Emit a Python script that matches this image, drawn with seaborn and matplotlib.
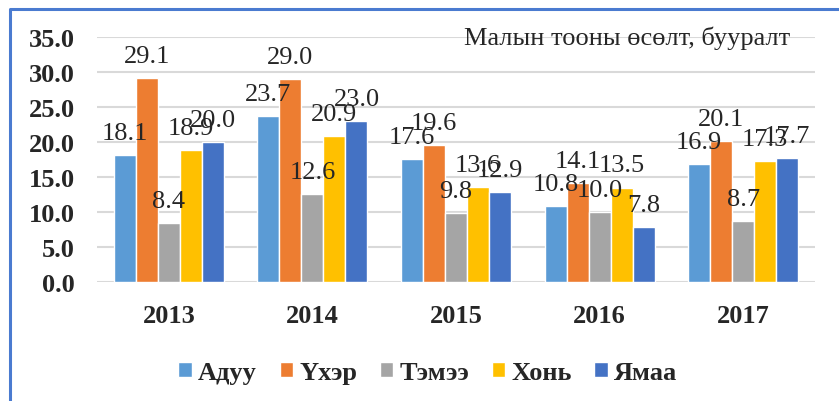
import numpy as np
import pandas as pd
import seaborn as sns
import matplotlib.pyplot as plt
from matplotlib.lines import Line2D

years = ["2013", "2014", "2015", "2016", "2017"]
animals = ["Адуу", "Үхэр", "Тэмээ", "Хонь", "Ямаа"]
aduu = [18.1, 23.7, 17.6, 10.8, 16.9]
ukher = [29.1, 29.0, 19.6, 14.1, 20.1]
temee = [8.4, 12.6, 9.8, 10.0, 8.7]
khoni = [18.9, 20.9, 13.6, 13.5, 17.3]
yamaa = [20.0, 23.0, 12.9, 7.8, 17.7]
colors = ["#5B9BD5", "#ED7D31", "#A5A5A5", "#FFC000", "#4472C4"]

rows = []
for name, vals in zip(animals, [aduu, ukher, temee, khoni, yamaa]):
    for y, v in zip(years, vals):
        rows.append({"year": y, "animal": name, "value": v})
df = pd.DataFrame(rows)

sns.set_style("white")
plt.rcParams['font.family'] = ['Liberation Serif', 'DejaVu Serif']

fig = plt.figure(figsize=(8.39, 4.02), dpi=100)
ax = fig.add_axes([0.1156, 0.296, 0.8558, 0.609])

sns.barplot(data=df, x="year", y="value", hue="animal", hue_order=animals,
            order=years, palette=colors, width=0.767, saturation=1,
            errorbar=None, ax=ax, legend=True)

for cont in ax.containers:
    ax.bar_label(cont, fmt="%.1f", fontsize=19, padding=8)

ax.set_ylim(0, 35)
ax.set_yticks(np.arange(0, 36, 5))
ax.set_yticklabels([f"{v:.1f}" for v in np.arange(0, 36, 5)], fontweight="bold", fontsize=19)
ax.set_xticklabels(years, fontweight="bold", fontsize=19)
ax.tick_params(axis="both", length=0)
ax.tick_params(axis="y", pad=16)
ax.tick_params(axis="x", pad=16)
ax.set_xlabel("")
ax.set_ylabel("")
ax.yaxis.grid(True, color="#D9D9D9", linewidth=1.5)
ax.set_axisbelow(True)
for s in ax.spines.values():
    s.set_visible(False)

ax.text(0.965, 1.0, "Малын тооны өсөлт, бууралт", transform=ax.transAxes,
        ha="right", va="center", fontsize=19)

leg = ax.legend(loc="center", ncol=5, frameon=False, handlelength=0.5, handleheight=0.5,
                handletextpad=0.25, columnspacing=0.85,
                prop={"weight": "bold", "size": 19, "family": "Liberation Serif"})
leg.set_bbox_to_anchor((0.51, 0.072), transform=fig.transFigure)

fig.add_artist(Line2D([0.012, 0.012, 1.0], [0.0, 0.975, 0.975], transform=fig.transFigure,
                      color="#4A7BD0", linewidth=2.2))

plt.savefig("out.png", dpi=100)
